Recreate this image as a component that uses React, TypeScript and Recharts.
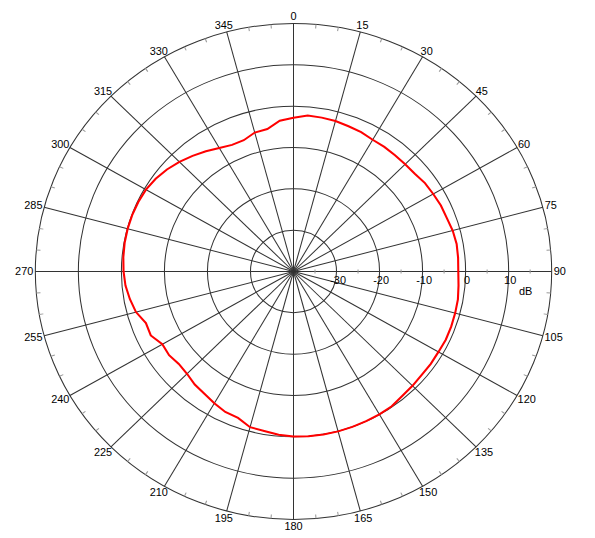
import React from 'react';
import { RadarChart, PolarGrid, PolarAngleAxis, PolarRadiusAxis, Radar } from 'recharts';

// measured pattern, dB vs bearing (degrees, clockwise from top)
const angles = [
  0, 5, 10, 15, 20, 25, 30, 35, 40, 45, 50, 55,
  60, 65, 70, 75, 80, 85, 90, 95, 100, 105, 110, 115,
  120, 125, 130, 135, 140, 145, 150, 155, 160, 165, 170, 175,
  180, 185, 190, 195, 200, 205, 210, 215, 220, 225, 230, 235,
  240, 245, 250, 255, 260, 265, 270, 275, 280, 285, 290, 295,
  300, 305, 310, 315, 320, 325, 330, 335, 340, 345, 350, 355,
];
const gains = [
  -2.8, -2.1, -2.2, -2.3, -2.6, -2.8, -3.2, -3.2, -3.3, -3.3, -3.2, -2.7,
  -2.5, -2.2, -2.1, -1.7, -1.5, -1.6, -1.7, -1.5, -1.2, -1.1, -1.0, -0.95,
  -1.1, -1.05, -1.1, -0.9, -0.7, -0.2, -0.1, -0.05, 0.0, 0.05, 0.05, 0.0,
  -0.1, -0.35, -0.8, -1.0, -2.3, -2.5, -3.2, -3.9, -4.3, -5.0, -5.2, -4.7,
  -4.8, -3.4, -3.5, -2.1, -1.4, -0.8, -0.5, -0.3, -0.15, -0.1, -0.1, -0.2,
  -0.4, -0.9, -1.6, -2.5, -3.5, -4.5, -5.5, -6.2, -6.2, -5.2, -5.0, -3.4,
];

const angleTicks = [0, 15, 30, 45, 60, 75, 90, 105, 120, 135, 150, 165, 180, 195, 210, 225, 240, 255, 270, 285, 300, 315, 330, 345];
const minorAngleTicks = [5, 10, 20, 25, 35, 40, 50, 55, 65, 70, 80, 85, 95, 100, 110, 115, 125, 130, 140, 145, 155, 160, 170, 175,
  185, 190, 200, 205, 215, 220, 230, 235, 245, 250, 260, 265, 275, 280, 290, 295, 305, 310, 320, 325, 335, 340, 350, 355];
const dbTicks = [-40, -30, -20, -10, 0, 10, 20];
const minorDbTicks = [-35, -25, -15, -5, 5, 15];

const data = angles.map((a, i) => ({ angle: a, gain: gains[i] }));

const CX = 293.5;
const CY = 271.5;
const R = 248;
const SX = 1.041; // the original plot is slightly wider than tall
const FONT = '"Liberation Sans", Arial, sans-serif';
const GRID = '#333';

const AngleTick = (props: any) => {
  const { x, y, payload } = props;
  const label = String(payload.value);
  const rad = (payload.value * Math.PI) / 180;
  const hw = label.length * 2.9;
  return (
    <text
      x={x + Math.sin(rad) * hw}
      y={y - Math.cos(rad) * 5}
      textAnchor="middle"
      dominantBaseline="central"
      fontFamily={FONT}
      fontSize={10.5}
      fill="#000"
    >
      {label}
    </text>
  );
};

const DbTick = (props: any) => {
  const { x, y, payload } = props;
  const v = payload.value;
  if (v === -40) return <g />;
  if (v === 20) {
    return (
      <text x={x - 25} y={y + 19.5} textAnchor="middle" dominantBaseline="central" fontFamily={FONT} fontSize={10.5} fill="#000">
        dB
      </text>
    );
  }
  return (
    <text x={x + 1.5} y={y + 9} textAnchor="middle" dominantBaseline="central" fontFamily={FONT} fontSize={10.5} fill="#000">
      {v}
    </text>
  );
};

const MinorDbTick = (props: any) => {
  const { x, y } = props;
  return <line x1={x} y1={y - 2} x2={x} y2={y + 2} stroke="#999" strokeWidth={1} />;
};

export default function App() {
  return (
    <div
      style={{
        position: 'absolute',
        left: 0,
        top: 0,
        width: 580,
        height: 536,
        transform: `scaleX(${SX})`,
        transformOrigin: `${CX}px ${CY}px`,
        background: '#fff',
      }}
    >
      <RadarChart
        width={580}
        height={536}
        data={data}
        cx={CX}
        cy={CY}
        innerRadius={0}
        outerRadius={R}
        margin={{ top: 0, right: 0, bottom: 0, left: 0 }}
      >
        <PolarGrid gridType="circle" stroke={GRID} strokeOpacity={1} />
        <PolarAngleAxis
          dataKey="angle"
          type="number"
          domain={[0, 360]}
          ticks={angleTicks}
          tickSize={2}
          tickLine={false}
          axisLine={false}
          tick={<AngleTick />}
        />
        <PolarAngleAxis
          angleAxisId={1}
          dataKey="angle"
          type="number"
          domain={[0, 360]}
          ticks={minorAngleTicks}
          orientation="inner"
          tickSize={4}
          tickLine={{ stroke: '#999' }}
          axisLine={false}
          tick={false}
        />
        <PolarRadiusAxis
          angle={0}
          type="number"
          domain={[-40, 20]}
          ticks={dbTicks}
          allowDataOverflow
          axisLine={false}
          tick={<DbTick />}
        />
        <PolarRadiusAxis
          radiusAxisId={1}
          angle={0}
          type="number"
          domain={[-40, 20]}
          ticks={minorDbTicks}
          allowDataOverflow
          axisLine={false}
          tick={<MinorDbTick />}
        />
        <Radar
          dataKey="gain"
          stroke="#ff0000"
          strokeWidth={2}
          fill="none"
          fillOpacity={0}
          dot={false}
          isAnimationActive={false}
        />
      </RadarChart>
    </div>
  );
}
